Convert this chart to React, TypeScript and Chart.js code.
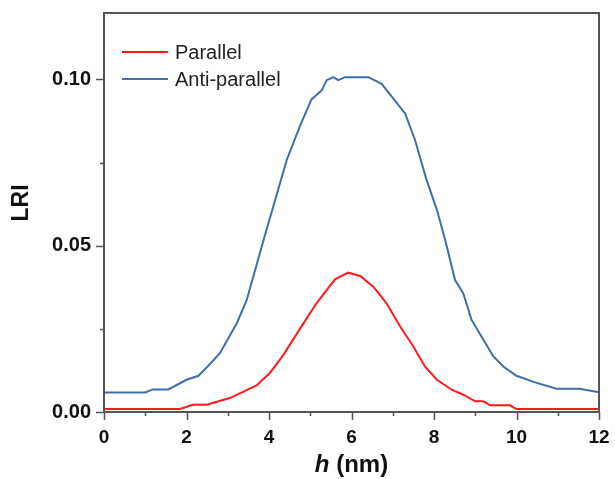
import React, { useEffect, useRef } from "react";
import { Chart, registerables } from "chart.js";

Chart.register(...registerables);

const seriesLabels = ["Parallel", "Anti-parallel"];
const seriesColors = ["#ff1a1a", "#3f6ea8"];

const parallelX = [0, 1.84, 2.16, 2.49, 3.05, 3.7, 4.02, 4.35, 4.75, 5.15, 5.6, 5.92, 6.21, 6.53, 6.85, 7.18, 7.5, 7.78, 8.07, 8.43, 8.71, 9.0, 9.2, 9.36, 9.84, 10.0, 12.0];
const parallelY = [0.0009, 0.0009, 0.0022, 0.0022, 0.0042, 0.008, 0.0117, 0.0172, 0.025, 0.0327, 0.0399, 0.0419, 0.0409, 0.0377, 0.0327, 0.0257, 0.0197, 0.0137, 0.0097, 0.0067, 0.0052, 0.0032, 0.0032, 0.002, 0.002, 0.0009, 0.0009];

const antiX = [0, 1.0, 1.18, 1.56, 2.0, 2.29, 2.53, 2.81, 3.22, 3.46, 3.87, 4.43, 4.75, 5.03, 5.28, 5.4, 5.56, 5.68, 5.84, 6.41, 6.73, 7.3, 7.54, 7.82, 8.07, 8.27, 8.51, 8.71, 8.91, 9.15, 9.44, 9.68, 10.0, 10.45, 10.97, 11.53, 12.0];
const antiY = [0.0059, 0.0059, 0.0068, 0.0068, 0.0097, 0.0109, 0.0139, 0.0177, 0.0267, 0.0337, 0.0518, 0.0758, 0.086, 0.094, 0.0968, 0.0998, 0.1007, 0.0998, 0.1007, 0.1007, 0.0987, 0.0898, 0.0818, 0.0698, 0.0608, 0.0518, 0.0397, 0.0357, 0.0277, 0.0227, 0.0167, 0.0137, 0.0109, 0.0089, 0.007, 0.007, 0.0059];

const xMajorTicks = [0, 2, 4, 6, 8, 10, 12];
const xMinorTicks = [1, 3, 5, 7, 9, 11];
const yMajorTicks = [0, 0.05, 0.1];
const yMinorTicks = [0.025, 0.075];
const yTickLabels = ["0.00", "0.05", "0.10"];
const xTitleItalic = "h";
const xTitleRest = " (nm)";
const yTitle = "LRI";

const FONT = "'Liberation Sans', Arial, sans-serif";

const framePlugin = {
  id: "frameAndDecor",
  afterDraw(chart: any) {
    const { ctx, chartArea } = chart;
    const xs = chart.scales.x;
    const ys = chart.scales.y;
    const { left, right, top, bottom } = chartArea;
    ctx.save();
    // frame
    ctx.strokeStyle = "#555555";
    ctx.lineWidth = 2;
    ctx.beginPath();
    ctx.rect(left, top, right - left, bottom - top);
    ctx.stroke();
    // ticks
    ctx.lineWidth = 1.5;
    ctx.beginPath();
    xMajorTicks.forEach((v) => {
      const px = Math.round(xs.getPixelForValue(v)) + 0.5;
      ctx.moveTo(px, bottom);
      ctx.lineTo(px, bottom + 8);
    });
    xMinorTicks.forEach((v) => {
      const px = Math.round(xs.getPixelForValue(v)) + 0.5;
      ctx.moveTo(px, bottom);
      ctx.lineTo(px, bottom + 4);
    });
    yMajorTicks.forEach((v) => {
      const py = Math.round(ys.getPixelForValue(v)) + 0.5;
      ctx.moveTo(left, py);
      ctx.lineTo(left - 8, py);
    });
    yMinorTicks.forEach((v) => {
      const py = Math.round(ys.getPixelForValue(v)) + 0.5;
      ctx.moveTo(left, py);
      ctx.lineTo(left - 4, py);
    });
    ctx.stroke();

    // legend
    ctx.textBaseline = "middle";
    ctx.textAlign = "left";
    ctx.font = `20px ${FONT}`;
    chart.data.datasets.forEach((ds: any, i: number) => {
      const y = 52 + i * 27;
      ctx.strokeStyle = ds.borderColor;
      ctx.lineWidth = 2;
      ctx.beginPath();
      ctx.moveTo(122, y);
      ctx.lineTo(168, y);
      ctx.stroke();
      ctx.fillStyle = "#222222";
      ctx.fillText(ds.label, 175, y + 1);
    });

    // y title
    ctx.save();
    ctx.translate(22, 203);
    ctx.rotate(-Math.PI / 2);
    ctx.font = `bold 23px ${FONT}`;
    ctx.fillStyle = "#111111";
    ctx.textAlign = "center";
    ctx.textBaseline = "middle";
    ctx.fillText(yTitle, 0, 0);
    ctx.restore();

    // x title
    ctx.fillStyle = "#111111";
    ctx.textBaseline = "alphabetic";
    ctx.font = `italic bold 24px ${FONT}`;
    const w1 = ctx.measureText(xTitleItalic).width;
    ctx.font = `bold 24px ${FONT}`;
    const w2 = ctx.measureText(xTitleRest).width;
    const cx = (left + right) / 2;
    const sx = cx - (w1 + w2) / 2;
    ctx.font = `italic bold 24px ${FONT}`;
    ctx.textAlign = "left";
    ctx.fillText(xTitleItalic, sx, 472);
    ctx.font = `bold 24px ${FONT}`;
    ctx.fillText(xTitleRest, sx + w1, 472);
    ctx.restore();
  },
};

export default function App() {
  const ref = useRef<HTMLCanvasElement>(null);
  useEffect(() => {
    document.body.style.margin = "0";
    const canvas = ref.current;
    if (!canvas) return;
    const chart = new Chart(canvas, {
      type: "line",
      data: {
        datasets: [
          {
            label: seriesLabels[0],
            data: parallelX.map((x, i) => ({ x, y: parallelY[i] })),
            borderColor: seriesColors[0],
            borderWidth: 2,
            pointRadius: 0,
            tension: 0,
            fill: false,
          },
          {
            label: seriesLabels[1],
            data: antiX.map((x, i) => ({ x, y: antiY[i] })),
            borderColor: seriesColors[1],
            borderWidth: 2,
            pointRadius: 0,
            tension: 0,
            fill: false,
          },
        ],
      },
      options: {
        animation: false,
        responsive: false,
        maintainAspectRatio: false,
        layout: { padding: { left: 0, top: 13, right: 16, bottom: 0 } },
        plugins: {
          legend: { display: false },
          tooltip: { enabled: false },
        },
        scales: {
          x: {
            type: "linear",
            min: 0,
            max: 12,
            afterFit: (s: any) => {
              s.height = 67;
              s.paddingLeft = 0;
              s.paddingRight = 0;
            },
            afterBuildTicks: (s: any) => {
              s.ticks = xMajorTicks.map((v) => ({ value: v }));
            },
            grid: { display: false },
            border: { display: false },
            ticks: {
              padding: 6,
              color: "#111111",
              font: { family: FONT, size: 19, weight: "bold" },
              callback: (v: any) => String(v),
              maxRotation: 0,
            },
          },
          y: {
            type: "linear",
            min: 0,
            max: 0.12,
            afterFit: (s: any) => {
              s.width = 104;
              s.paddingTop = 0;
              s.paddingBottom = 0;
            },
            afterBuildTicks: (s: any) => {
              s.ticks = yMajorTicks.map((v) => ({ value: v }));
            },
            grid: { display: false },
            border: { display: false },
            ticks: {
              padding: 5,
              color: "#111111",
              font: { family: FONT, size: 20, weight: "bold" },
              callback: (v: any) => {
                const i = yMajorTicks.findIndex((t) => Math.abs(t - v) < 1e-9);
                return i >= 0 ? yTickLabels[i] : "";
              },
            },
          },
        },
      },
      plugins: [framePlugin],
    });
    return () => chart.destroy();
  }, []);
  return (
    <div style={{ position: "absolute", left: 0, top: 0, width: 615, height: 479, background: "#ffffff" }}>
      <canvas ref={ref} width={615} height={479} />
    </div>
  );
}
